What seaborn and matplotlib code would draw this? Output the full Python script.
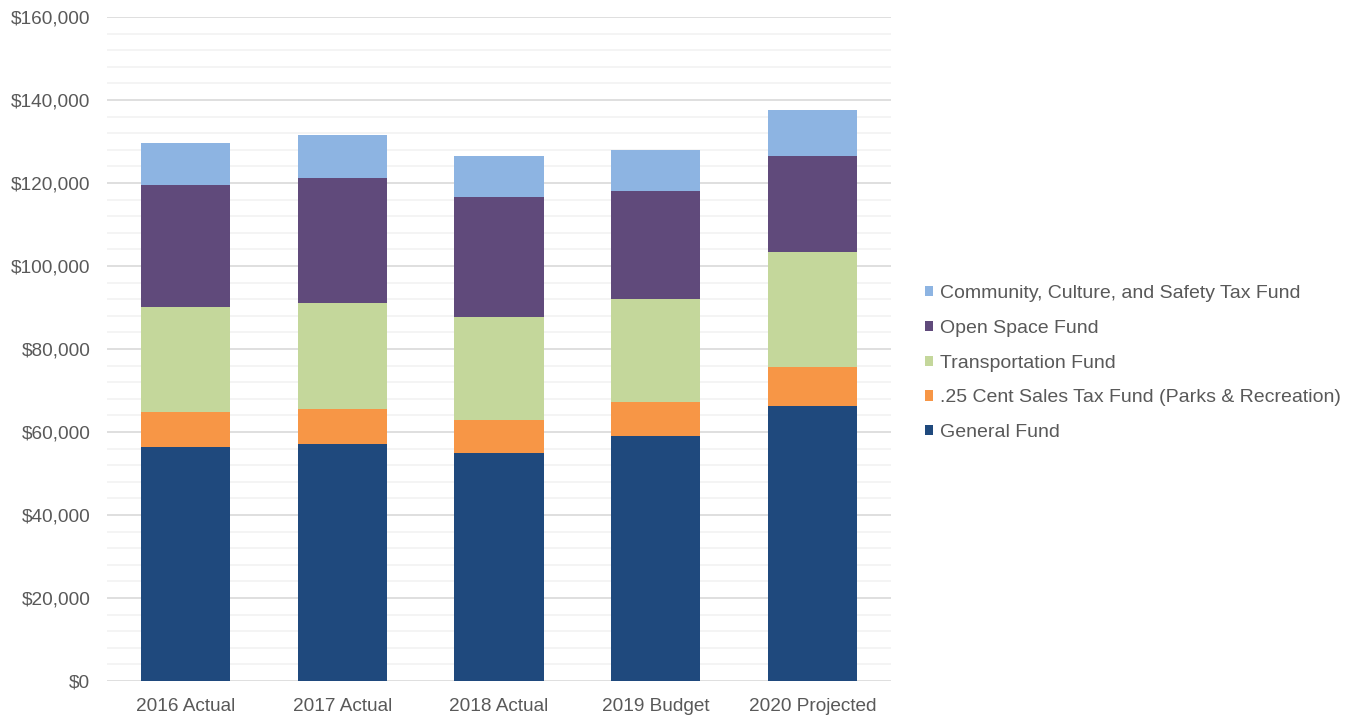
import matplotlib
matplotlib.use("Agg")
import matplotlib.pyplot as plt
from matplotlib.patches import Patch
from matplotlib.ticker import MultipleLocator, FuncFormatter
import numpy as np
import pandas as pd
import seaborn as sns

years = ["2016 Actual", "2017 Actual", "2018 Actual", "2019 Budget", "2020 Projected"]
general_fund = [56300, 57000, 54900, 59000, 66300]
sales_tax_fund = [8400, 8500, 8100, 8300, 9300]
transportation_fund = [25300, 25600, 24600, 24700, 27800]
open_space_fund = [29500, 30200, 29000, 26000, 23100]
ccs_tax_fund = [10100, 10300, 9900, 10000, 11200]

series_names = [
    "General Fund",
    ".25 Cent Sales Tax Fund (Parks & Recreation)",
    "Transportation Fund",
    "Open Space Fund",
    "Community, Culture, and Safety Tax Fund",
]
series_values = [general_fund, sales_tax_fund, transportation_fund,
                 open_space_fund, ccs_tax_fund]
colors = ["#1F497D", "#F79646", "#C4D79B", "#604A7B", "#8DB4E2"]

sns.set_theme(style="white")
plt.rcParams["font.family"] = ["Liberation Sans", "DejaVu Sans"]

df = pd.DataFrame({"year": years})
cum = np.zeros(len(years))
for name, vals in zip(series_names, series_values):
    cum = cum + np.array(vals, dtype=float)
    df[name] = cum.copy()

fig = plt.figure(figsize=(13.58, 7.17), dpi=100)
ax = fig.add_axes([0.0788, 0.0502, 0.5773, 0.9261])

# stacked bars: draw cumulative totals from the top layer down
for name, color in reversed(list(zip(series_names, colors))):
    sns.barplot(data=df, x="year", y=name, color=color, width=0.57,
                saturation=1, ax=ax, linewidth=0, zorder=3)

ax.set_ylim(0, 160000)
ax.set_xlim(-0.5, len(years) - 0.5)
ax.yaxis.set_major_locator(MultipleLocator(20000))
ax.yaxis.set_minor_locator(MultipleLocator(4000))
ax.yaxis.set_major_formatter(FuncFormatter(lambda v, p: f"${v:,.0f}"))
ax.grid(which="major", axis="y", color="#D9D9D9", linewidth=1.2, zorder=0)
ax.grid(which="minor", axis="y", color="#F2F2F2", linewidth=1.2, zorder=0)
ax.set_axisbelow(True)
for s in ax.spines.values():
    s.set_visible(False)
ax.set_xlabel("")
ax.set_ylabel("")
ax.tick_params(axis="both", which="both", length=0, labelsize=13.7,
               labelcolor="#595959")
ax.tick_params(axis="y", pad=12)
ax.tick_params(axis="x", pad=12.5)

handles = [Patch(facecolor=c, edgecolor="none") for c in reversed(colors)]
labels = list(reversed(series_names))
leg = fig.legend(handles, labels, loc="center left", bbox_to_anchor=(0.668, 0.4937),
                 frameon=False, fontsize=14, handlelength=0.42, handleheight=0.42,
                 handletextpad=0.36, labelspacing=0.92, labelcolor="#595959")

fig.savefig("out.png", dpi=100, facecolor="white")
